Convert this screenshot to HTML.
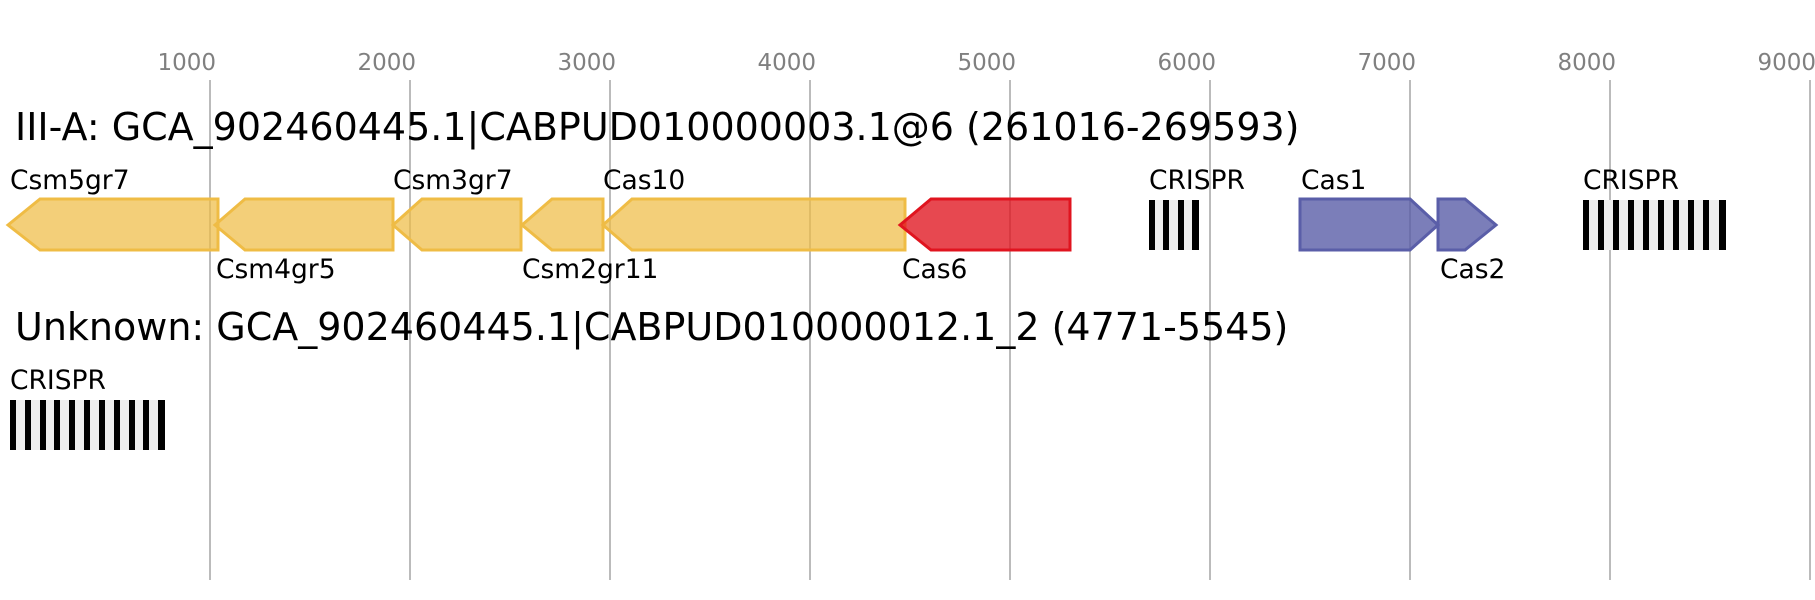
<!DOCTYPE html>
<html><head><meta charset="utf-8"><style>
html,body{margin:0;padding:0;background:#fff;}
svg{display:block;font-family:"DejaVu Sans","Liberation Sans",sans-serif;}
</style></head><body>
<svg width="1815" height="600" viewBox="0 0 1815 600" xmlns="http://www.w3.org/2000/svg">
<g stroke="#bbb" stroke-width="2">
<line x1="210" y1="80" x2="210" y2="580"/><line x1="410" y1="80" x2="410" y2="580"/>
<line x1="610" y1="80" x2="610" y2="580"/><line x1="810" y1="80" x2="810" y2="580"/>
<line x1="1010" y1="80" x2="1010" y2="580"/><line x1="1210" y1="80" x2="1210" y2="580"/>
<line x1="1410" y1="80" x2="1410" y2="580"/><line x1="1610" y1="80" x2="1610" y2="580"/>
<line x1="1810" y1="80" x2="1810" y2="580"/>
</g>
<g fill="#808080" font-size="23" text-anchor="end">
<text x="216" y="70">1000</text><text x="416" y="70">2000</text><text x="616" y="70">3000</text>
<text x="816" y="70">4000</text><text x="1016" y="70">5000</text><text x="1216" y="70">6000</text>
<text x="1416" y="70">7000</text><text x="1616" y="70">8000</text><text x="1816" y="70">9000</text>
</g>
<text x="15" y="140" font-size="38">III-A: GCA_902460445.1|CABPUD010000003.1@6 (261016-269593)</text>
<text x="15" y="340" font-size="38">Unknown: GCA_902460445.1|CABPUD010000012.1_2 (4771-5545)</text>
<g fill="#efbc45" fill-opacity="0.72" stroke="#efbc45" stroke-width="3">
<polygon points="8,225 40,199 218,199 218,250 40,250"/>
<polygon points="215,225 245,199 393,199 393,250 245,250"/>
<polygon points="393,225 422,199 521,199 521,250 422,250"/>
<polygon points="522,225 552,199 603,199 603,250 552,250"/>
<polygon points="603,225 632,199 905,199 905,250 632,250"/>
</g>
<polygon points="900,225 931,199 1070,199 1070,250 931,250" fill="#e0141f" fill-opacity="0.78" stroke="#e0141f" stroke-width="3"/>
<g fill="#5a5ea8" fill-opacity="0.8" stroke="#5a5ea8" stroke-width="3">
<polygon points="1300,199 1410,199 1438,225 1410,250 1300,250"/>
<polygon points="1438,199 1465,199 1496,225 1465,250 1438,250"/>
</g>
<g font-size="26.5" fill="#000">
<text x="10" y="189">Csm5gr7</text><text x="216" y="278">Csm4gr5</text>
<text x="393" y="189">Csm3gr7</text><text x="522" y="278">Csm2gr11</text>
<text x="603" y="189">Cas10</text><text x="902" y="278">Cas6</text>
<text x="1149" y="189">CRISPR</text><text x="1301" y="189">Cas1</text>
<text x="1440" y="278">Cas2</text><text x="1583" y="189">CRISPR</text>
<text x="10" y="389">CRISPR</text>
</g>
<rect x="1149" y="200" width="50" height="50" fill="#eee"/>
<g fill="#000">
<rect x="1149" y="200" width="6" height="50"/><rect x="1163" y="200" width="6" height="50"/>
<rect x="1178" y="200" width="6" height="50"/><rect x="1192" y="200" width="7" height="50"/>
</g>
<rect x="1583" y="200" width="143" height="50" fill="#eee"/>
<g fill="#000">
<rect x="1583" y="200" width="6" height="50"/><rect x="1598" y="200" width="6" height="50"/>
<rect x="1613" y="200" width="6" height="50"/><rect x="1628" y="200" width="6" height="50"/>
<rect x="1643" y="200" width="6" height="50"/><rect x="1658" y="200" width="6" height="50"/>
<rect x="1673" y="200" width="6" height="50"/><rect x="1688" y="200" width="6" height="50"/>
<rect x="1703" y="200" width="6" height="50"/><rect x="1719" y="200" width="7" height="50"/>
</g>
<rect x="10" y="400" width="155" height="50" fill="#eee"/>
<g fill="#000">
<rect x="10" y="400" width="6" height="50"/><rect x="25" y="400" width="6" height="50"/>
<rect x="40" y="400" width="6" height="50"/><rect x="54" y="400" width="6" height="50"/>
<rect x="69" y="400" width="6" height="50"/><rect x="84" y="400" width="6" height="50"/>
<rect x="99" y="400" width="6" height="50"/><rect x="114" y="400" width="6" height="50"/>
<rect x="129" y="400" width="6" height="50"/><rect x="143" y="400" width="6" height="50"/>
<rect x="158" y="400" width="7" height="50"/>
</g>
</svg>
</body></html>
